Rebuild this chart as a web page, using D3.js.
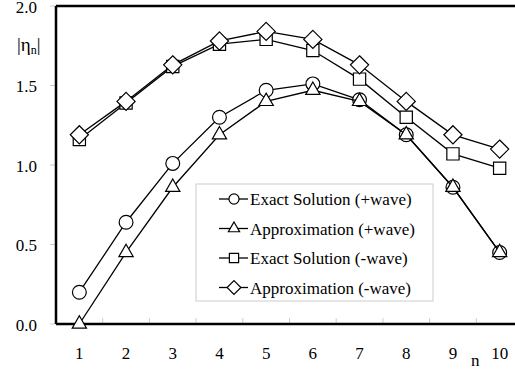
<!DOCTYPE html>
<html>
<head>
<meta charset="utf-8">
<script src="https://cdn.jsdelivr.net/npm/d3@7"></script>
<style>
  body { margin: 0; background: #fff; }
  svg { display: block; }
  text { font-family: "Liberation Serif", "Times New Roman", serif; }
</style>
</head>
<body>
<svg id="chart" width="515" height="371"></svg>
<script>
// data
const nValues = [1, 2, 3, 4, 5, 6, 7, 8, 9, 10]
const exactPlus = [0.20, 0.64, 1.01, 1.30, 1.47, 1.51, 1.41, 1.19, 0.86, 0.45]
const approxPlus = [0.00, 0.45, 0.86, 1.19, 1.40, 1.47, 1.40, 1.19, 0.86, 0.45]
const exactMinus = [1.16, 1.39, 1.62, 1.76, 1.79, 1.72, 1.54, 1.30, 1.07, 0.98]
const approxMinus = [1.19, 1.40, 1.63, 1.78, 1.84, 1.79, 1.63, 1.40, 1.19, 1.10]
const yTicks = [0, 0.5, 1.0, 1.5, 2.0]

const series = [
  {name: "Exact Solution (+wave)", values: exactPlus, symbol: "circle"},
  {name: "Approximation (+wave)", values: approxPlus, symbol: "triangle"},
  {name: "Exact Solution (-wave)", values: exactMinus, symbol: "square"},
  {name: "Approximation (-wave)", values: approxMinus, symbol: "diamond"}
]

const margins = {left: 56, top: 6, right: -8, bottom: 47}
const svg = d3.select("#chart")
const width = 515, height = 371
const innerW = width - margins.left - margins.right
const innerH = height - margins.top - margins.bottom

const xScale = d3.scaleBand().domain(nValues).range([0, innerW])
const yScale = d3.scaleLinear().domain([0, 2]).range([innerH, 0])

// square diamond (equal width and height)
const squareDiamond = {
  draw(context, size) {
    const r = Math.sqrt(size / 2)
    context.moveTo(0, -r)
    context.lineTo(r, 0)
    context.lineTo(0, r)
    context.lineTo(-r, 0)
    context.closePath()
  }
}

const symbolTypes = {
  circle: [d3.symbolCircle, 150, 80],
  triangle: [d3.symbolTriangle, 88, 55],
  square: [d3.symbolSquare, 150, 85],
  diamond: [squareDiamond, 165, 95]
}
const markSymbol = k => d3.symbol(symbolTypes[k][0], symbolTypes[k][1])()
const legendSymbol = k => d3.symbol(symbolTypes[k][0], symbolTypes[k][2])()

const g = svg.append("g")
  .attr("class", "chart")
  .attr("transform", `translate(${margins.left}, ${margins.top})`)

// x axis: ticks between categories, pointing inward
const xAxis = g.append("g")
  .attr("transform", `translate(0, ${innerH})`)
xAxis.selectAll("line.tick")
  .data(nValues.slice(1))
  .enter()
  .append("line")
  .attr("x1", d => xScale(d))
  .attr("x2", d => xScale(d))
  .attr("y1", 0)
  .attr("y2", -6)
  .attr("stroke", "#ccc")
  .attr("stroke-width", 1)
xAxis.selectAll("text")
  .data(nValues)
  .enter()
  .append("text")
  .attr("x", d => xScale(d) + xScale.bandwidth() / 2)
  .attr("y", 35)
  .attr("text-anchor", "middle")
  .attr("font-size", 17)
  .text(d => d)

// y axis
const yAxis = g.append("g")
yAxis.selectAll("line")
  .data(yTicks)
  .enter()
  .append("line")
  .attr("x1", -6)
  .attr("x2", 0)
  .attr("y1", d => yScale(d))
  .attr("y2", d => yScale(d))
  .attr("stroke", "#ccc")
yAxis.selectAll("text")
  .data(yTicks)
  .enter()
  .append("text")
  .attr("x", -19)
  .attr("y", d => yScale(d) + 6.5)
  .attr("text-anchor", "end")
  .attr("font-size", 17)
  .text(d => d3.format(".1f")(d))

// frame
g.append("line").attr("x1", 0).attr("x2", innerW).attr("y1", 0).attr("y2", 0)
  .attr("stroke", "#000").attr("stroke-width", 2.5)
g.append("line").attr("x1", 0).attr("x2", innerW).attr("y1", innerH).attr("y2", innerH)
  .attr("stroke", "#000").attr("stroke-width", 2.5)
g.append("line").attr("x1", 0).attr("x2", 0).attr("y1", 0).attr("y2", innerH)
  .attr("stroke", "#000").attr("stroke-width", 2.5)

// lines and markers
const line = d3.line()
  .x((d, i) => xScale(nValues[i]) + xScale.bandwidth() / 2)
  .y(d => yScale(d))

const groups = g.selectAll("g.series")
  .data(series)
  .enter()
  .append("g")
  .attr("class", "series")

groups.append("path")
  .attr("d", d => line(d.values))
  .attr("fill", "none")
  .attr("stroke", "#000")
  .attr("stroke-width", 1.3)

groups.each(function(s) {
  d3.select(this)
    .selectAll("path.pt")
    .data(s.values)
    .enter()
    .append("path")
    .attr("class", "pt")
    .attr("d", markSymbol(s.symbol))
    .attr("transform", (d, i) =>
      `translate(${xScale(nValues[i]) + xScale.bandwidth() / 2}, ${yScale(d)})`)
    .attr("fill", "#fff")
    .attr("stroke", "#000")
    .attr("stroke-width", 1.2)
})

// legend
const legend = svg.append("g").attr("transform", "translate(196, 184)")
legend.append("rect")
  .attr("width", 237)
  .attr("height", 117)
  .attr("fill", "#fff")
  .attr("stroke", "#ccc")
const items = legend.selectAll("g.item")
  .data(series)
  .enter()
  .append("g")
  .attr("class", "item")
  .attr("transform", (d, i) => `translate(0, ${15 + i * 29.5})`)
items.append("line")
  .attr("x1", 23).attr("x2", 52)
  .attr("stroke", "#000").attr("stroke-width", 1.3)
items.append("path")
  .attr("d", d => legendSymbol(d.symbol))
  .attr("transform", "translate(38, 0)")
  .attr("fill", "#fff")
  .attr("stroke", "#000")
  .attr("stroke-width", 1.2)
items.append("text")
  .attr("x", 54)
  .attr("y", 6)
  .attr("font-size", 17)
  .text(d => d.name)

// axis titles
const yTitle = svg.append("text")
  .attr("x", 17)
  .attr("y", 51)
  .attr("font-size", 19)
yTitle.append("tspan").text("|η")
yTitle.append("tspan").attr("font-size", 12).attr("dy", 3).text("n")
yTitle.append("tspan").attr("dy", -3).text("|")

svg.append("text")
  .attr("x", 471)
  .attr("y", 366)
  .attr("font-size", 17)
  .text("n")
</script>
</body>
</html>
